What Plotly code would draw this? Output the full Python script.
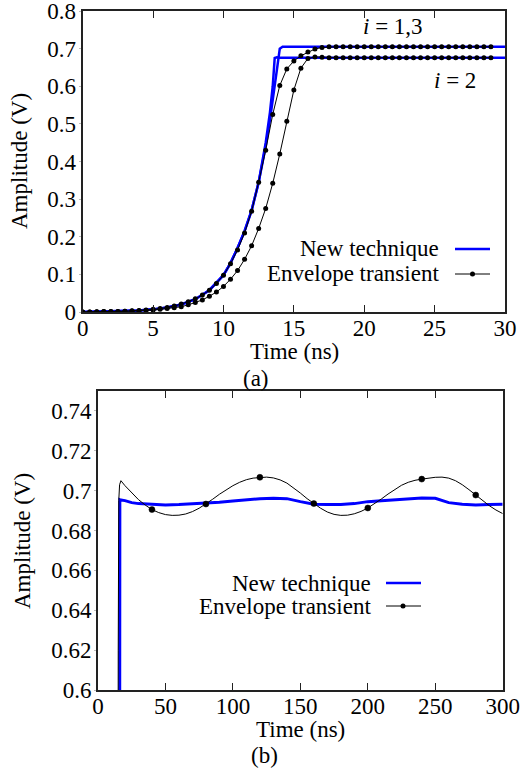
import plotly.graph_objects as go

W, H = 522, 769
FONT = "Liberation Serif"
FS = 23

# ---------------- panel (a) data ----------------
# New technique (fine grid)
t_new_a = [0, 2, 4, 5, 6, 7, 8, 9, 10, 10.5, 11, 11.5, 12, 12.5, 13, 13.3, 13.5, 13.64, 13.8, 14.0, 14.2, 16, 20, 25, 30]
new_i13 = [0, 0.001, 0.004, 0.007, 0.012, 0.02, 0.034, 0.058, 0.098, 0.13, 0.17, 0.215, 0.27, 0.345, 0.44, 0.51, 0.56, 0.6, 0.645, 0.7, 0.705, 0.705, 0.705, 0.705, 0.705]
new_i2 = [0, 0.001, 0.004, 0.007, 0.012, 0.02, 0.034, 0.058, 0.098, 0.13, 0.17, 0.215, 0.27, 0.345, 0.45, 0.53, 0.6, 0.675, 0.677, 0.676, 0.676, 0.676, 0.676, 0.676, 0.676]

# Envelope transient (0.5 ns steps, 0 .. 29 ns)
t_env_a = [0, 0.5, 1, 1.5, 2, 2.5, 3, 3.5, 4, 4.5, 5, 5.5, 6, 6.5, 7, 7.5, 8, 8.5, 9, 9.5,
           10, 10.5, 11, 11.5, 12, 12.5, 13, 13.5, 14, 14.5, 15, 15.5, 16, 16.5, 17, 17.5, 18, 18.5, 19, 19.5,
           20, 20.5, 21, 21.5, 22, 22.5, 23, 23.5, 24, 24.5, 25, 25.5, 26, 26.5, 27, 27.5, 28, 28.5, 29]
env_i13 = [0, 0, 0.0005, 0.001, 0.001, 0.0015, 0.002, 0.003, 0.004, 0.005, 0.007, 0.009, 0.012, 0.016, 0.021, 0.027, 0.035, 0.045, 0.058, 0.076,
           0.098, 0.128, 0.165, 0.21, 0.268, 0.345, 0.43, 0.525, 0.602, 0.646, 0.667, 0.681, 0.691, 0.699, 0.703, 0.705, 0.705, 0.705, 0.705, 0.705,
           0.705, 0.705, 0.705, 0.705, 0.705, 0.705, 0.705, 0.705, 0.705, 0.705, 0.705, 0.705, 0.705, 0.705, 0.705, 0.705, 0.705, 0.705, 0.705]
env_i2 = [0, 0, 0.0005, 0.001, 0.001, 0.0015, 0.002, 0.0025, 0.003, 0.004, 0.005, 0.007, 0.009, 0.011, 0.014, 0.019, 0.025, 0.032, 0.042, 0.053,
          0.068, 0.087, 0.11, 0.14, 0.176, 0.222, 0.275, 0.342, 0.42, 0.507, 0.59, 0.648, 0.674, 0.678, 0.677, 0.676, 0.676, 0.676, 0.676, 0.676,
          0.676, 0.676, 0.676, 0.676, 0.676, 0.676, 0.676, 0.676, 0.676, 0.676, 0.676, 0.676, 0.676, 0.676, 0.676, 0.676, 0.676, 0.676, 0.676]

# ---------------- panel (b) data ----------------
t_new_b = [0, 15.8, 16.2, 17, 20, 25, 30, 40, 50, 60, 70, 80, 90, 100, 110, 120, 130, 140, 150, 160, 170,
           180, 190, 200, 210, 220, 230, 240, 250, 260, 270, 280, 290, 300]
new_b = [0, 0.3, 0.6955, 0.6953, 0.695, 0.694, 0.6935, 0.693, 0.6928, 0.693, 0.6933, 0.6937, 0.6942, 0.6948, 0.6955, 0.696, 0.6962, 0.696, 0.6945, 0.6932, 0.693,
         0.693, 0.6935, 0.6945, 0.695, 0.6955, 0.696, 0.6963, 0.6962, 0.694, 0.6932, 0.6928, 0.693, 0.6932]

t_env_b = [0, 14.5, 15.0, 15.4, 16, 17, 20, 25, 30, 35, 40, 45, 50, 55, 60, 65, 70, 75, 80, 85, 90, 95, 100,
           105, 110, 115, 120, 125, 130, 135, 140, 145, 150, 155, 160, 165, 170, 175, 180, 185, 190, 195, 200,
           205, 210, 215, 220, 225, 230, 235, 240, 245, 250, 255, 260, 265, 270, 275, 280, 285, 290, 295, 300]
env_b = [0, 0.3, 0.62, 0.695, 0.703, 0.705, 0.7025, 0.699, 0.6955, 0.6928, 0.6905, 0.689, 0.688, 0.6876, 0.6877, 0.6883, 0.6895, 0.6912, 0.6933, 0.6957, 0.6982, 0.7005, 0.7025,
         0.7042, 0.7055, 0.7063, 0.7067, 0.7068, 0.7064, 0.7054, 0.7038, 0.7015, 0.6988, 0.696, 0.6935, 0.6912, 0.6893, 0.6881, 0.6876, 0.6877, 0.6884, 0.6896, 0.6913,
         0.6934, 0.6958, 0.6983, 0.7007, 0.7027, 0.7042, 0.7052, 0.7058, 0.7064, 0.7067, 0.7068, 0.7063, 0.705, 0.703, 0.7005, 0.6978, 0.695, 0.6925, 0.6903, 0.6885]
marker_every_b = 40

ticks_a_x = [0, 5, 10, 15, 20, 25, 30]
ticks_a_y = [0, 0.1, 0.2, 0.3, 0.4, 0.5, 0.6, 0.7, 0.8]
ticks_b_x = [0, 50, 100, 150, 200, 250, 300]
ticks_b_y = [0.6, 0.62, 0.64, 0.66, 0.68, 0.7, 0.72, 0.74]
range_a_y = [0, 0.80001]
range_b_y = [0.6, 0.75]

legend_labels = ["New technique", "Envelope transient"]

BLUE = "#0000ff"
BLACK = "#000000"
AX = "#222222"


def px(x):
    return x / W


def py(y):
    return 1 - y / H


fig = go.Figure()

# panel (a)
fig.add_trace(go.Scatter(x=t_new_a, y=new_i13, mode="lines", line=dict(color=BLUE, width=2.5),
                         xaxis="x", yaxis="y", showlegend=False))
fig.add_trace(go.Scatter(x=t_new_a, y=new_i2, mode="lines", line=dict(color=BLUE, width=2.5),
                         xaxis="x", yaxis="y", showlegend=False))
fig.add_trace(go.Scatter(x=t_env_a, y=env_i13, mode="lines+markers", line=dict(color=BLACK, width=1),
                         marker=dict(color=BLACK, size=5), xaxis="x", yaxis="y", showlegend=False))
fig.add_trace(go.Scatter(x=t_env_a, y=env_i2, mode="lines+markers", line=dict(color=BLACK, width=1),
                         marker=dict(color=BLACK, size=5), xaxis="x", yaxis="y", showlegend=False))

# panel (b)
fig.add_trace(go.Scatter(x=t_new_b, y=new_b, mode="lines", line=dict(color=BLUE, width=3),
                         xaxis="x2", yaxis="y2", showlegend=False))
fig.add_trace(go.Scatter(x=t_env_b, y=env_b, mode="lines", line=dict(color=BLACK, width=1),
                         xaxis="x2", yaxis="y2", showlegend=False))
mk_t = [t for t in t_env_b if t > 0 and t % marker_every_b == 0]
mk_v = [v for t, v in zip(t_env_b, env_b) if t > 0 and t % marker_every_b == 0]
fig.add_trace(go.Scatter(x=mk_t, y=mk_v, mode="markers", opacity=1,
                         marker=dict(color=BLACK, size=6, opacity=1, line=dict(color=BLACK, width=0.5)),
                         xaxis="x2", yaxis="y2", showlegend=False))

tickfont = dict(family=FONT, size=FS, color="#000")
x_common = dict(showline=True, linecolor=AX, linewidth=2, mirror="ticks", ticks="inside",
                ticklen=7, tickwidth=1.3, tickcolor=AX, showgrid=False, zeroline=False,
                tickfont=tickfont, automargin=False, ticklabelstandoff=-6, ticklabeloverflow="allow")
y_left = dict(showline=True, linecolor=AX, linewidth=2, mirror=True, ticks="outside",
              ticklen=2, tickwidth=1, tickcolor="#bbb", showgrid=False, zeroline=False,
              tickfont=tickfont, automargin=False, ticklabelstandoff=-2, ticklabeloverflow="allow")
y_right = dict(showline=False, ticks="inside", ticklen=7, tickwidth=1.3, tickcolor=AX,
               showticklabels=False, showgrid=False, zeroline=False, side="right", automargin=False)

fig.update_layout(
    width=W, height=H, margin=dict(l=0, r=0, t=0, b=0),
    font=dict(family=FONT, size=FS, color="#000"),
    paper_bgcolor="white", plot_bgcolor="white", showlegend=False,
    xaxis=dict(domain=[px(82.7), px(505)], range=[0, 30], tickvals=ticks_a_x, anchor="y", **x_common),
    yaxis=dict(domain=[py(312), py(11)], range=range_a_y, tickvals=ticks_a_y, anchor="x", **y_left),
    yaxis3=dict(overlaying="y", anchor="x", range=range_a_y, tickvals=ticks_a_y, **y_right),
    xaxis2=dict(domain=[px(98), px(502.7)], range=[0, 300], tickvals=ticks_b_x, anchor="y2", **x_common),
    yaxis2=dict(domain=[py(690), py(391)], range=range_b_y, tickvals=ticks_b_y, anchor="x2", **y_left),
    yaxis4=dict(overlaying="y2", anchor="x2", range=range_b_y, tickvals=ticks_b_y, **y_right),
)

tf = dict(family=FONT, size=FS, color="#000")
ann = []
# axis titles and panel labels
ann.append(dict(text="Amplitude (V)", x=px(19), y=py(161), textangle=-90, font=tf))
ann.append(dict(text="Amplitude (V)", x=px(22), y=py(541), textangle=-90, font=tf))
ann.append(dict(text="Time (ns)", x=px(294), y=py(351), font=tf))
ann.append(dict(text="(a)", x=px(256), y=py(379), font=tf))
ann.append(dict(text="Time (ns)", x=px(300), y=py(729), font=tf))
ann.append(dict(text="(b)", x=px(264), y=py(755), font=tf))
ann.append(dict(text="<i>i</i> = 1,3", x=px(393), y=py(27), font=tf))
ann.append(dict(text="<i>i</i> = 2", x=px(455), y=py(80), font=tf))

shapes = []
# legend (a)
leg_a = [(legend_labels[0], 249, BLUE, 2.5, False), (legend_labels[1], 274, BLACK, 1, True)]
for lab, yy, col, lw, mk in leg_a:
    ann.append(dict(text=lab, x=px(441), y=py(yy), xanchor="right", font=tf))
    shapes.append(dict(type="line", xref="paper", yref="paper", x0=px(455), x1=px(490), y0=py(yy), y1=py(yy),
                       line=dict(color=col, width=lw)))
    if mk:
        shapes.append(dict(type="circle", xref="paper", yref="paper", x0=px(470), x1=px(475),
                           y0=py(yy + 2.5), y1=py(yy - 2.5), fillcolor=BLACK, line=dict(color=BLACK, width=0)))
# legend (b)
leg_b = [(legend_labels[0], 583, BLUE, 2.5, False), (legend_labels[1], 606, BLACK, 1, True)]
for lab, yy, col, lw, mk in leg_b:
    ann.append(dict(text=lab, x=px(373), y=py(yy), xanchor="right", font=tf))
    shapes.append(dict(type="line", xref="paper", yref="paper", x0=px(386), x1=px(421), y0=py(yy), y1=py(yy),
                       line=dict(color=col, width=lw)))
    if mk:
        shapes.append(dict(type="circle", xref="paper", yref="paper", x0=px(400.5), x1=px(405.5),
                           y0=py(yy + 2.5), y1=py(yy - 2.5), fillcolor=BLACK, line=dict(color=BLACK, width=0)))

for a in ann:
    a.setdefault("xref", "paper")
    a.setdefault("yref", "paper")
    a.setdefault("showarrow", False)
    a.setdefault("xanchor", "center")
    a.setdefault("yanchor", "middle")

fig.update_layout(annotations=ann, shapes=shapes)
fig.write_html("out.html", post_script="document.body.style.margin='0';document.body.style.padding='0';",
               config={"displayModeBar": False})
